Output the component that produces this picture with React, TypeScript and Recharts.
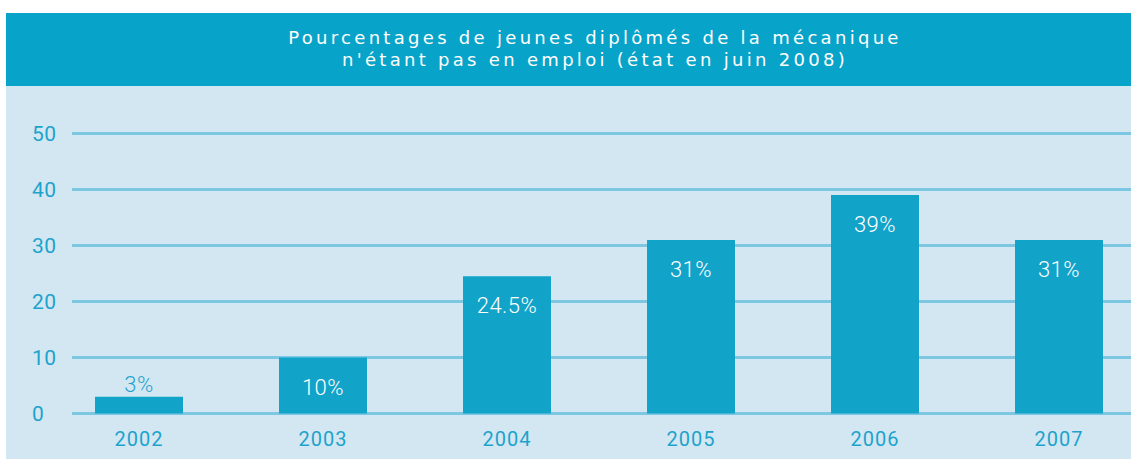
import { BarChart, Bar, XAxis, YAxis, CartesianGrid, LabelList } from 'recharts';

const years = ['2002', '2003', '2004', '2005', '2006', '2007'];
const sansEmploi = [3, 10, 24.5, 31, 39, 31];
const yTicks = [0, 10, 20, 30, 40, 50];

const data = years.map((year, i) => ({ year, value: sansEmploi[i] }));

const BAND = '#08a3c9';
const BG = '#d3e7f2';
const BAR = '#12a3c9';
const GRID = '#7cc7e1';
const TEXT = '#1da3cc';

function ValueLabel(props: any) {
  const { x, y, width, value } = props;
  const small = value < 5;
  return (
    <text
      x={x + width / 2}
      y={small ? y - 5 : y + 37}
      textAnchor="middle"
      fill={small ? TEXT : '#ffffff'}
      fontSize={22}
      fontWeight={300}
      letterSpacing={0.5}
      fontFamily="Roboto, sans-serif"
    >
      {value}%
    </text>
  );
}

function YTick(props: any) {
  const { y, payload } = props;
  return (
    <text x={32} y={y} dy={7} textAnchor="start" fill={TEXT} fontSize={21} letterSpacing={0.5} fontFamily="Roboto, sans-serif">
      {payload.value}
    </text>
  );
}

function XTick(props: any) {
  const { x, y, payload } = props;
  return (
    <text x={x} y={y} dy={32} textAnchor="middle" fill={TEXT} fontSize={20} letterSpacing={1} fontFamily="Roboto, sans-serif">
      {payload.value}
    </text>
  );
}

function GridLine(props: any) {
  return (
    <line
      key={props.key}
      x1={props.x1 + 25}
      x2={props.x2 + 20}
      y1={props.y1}
      y2={props.y2}
      stroke={GRID}
      strokeWidth={3}
    />
  );
}

export default function App() {
  return (
    <div
      style={{
        position: 'absolute',
        left: 0,
        top: 0,
        width: 1131,
        height: 459,
        overflow: 'hidden',
        background: '#ffffff',
      }}
    >
      <div
        style={{
          position: 'absolute',
          left: 6,
          top: 13,
          width: 1125,
          height: 73,
          background: BAND,
          color: '#ffffff',
          boxSizing: 'border-box',
          paddingTop: 14,
          paddingLeft: 53,
          textAlign: 'center',
          fontFamily: "'DejaVu Sans', sans-serif",
          fontSize: 18,
          lineHeight: '22px',
          letterSpacing: 3.3,
        }}
      >
        Pourcentages de jeunes diplômés de la mécanique
        <br />
        n'étant pas en emploi (état en juin 2008)
      </div>
      <div style={{ position: 'absolute', left: 6, top: 86, width: 1125, height: 373, background: BG }} />
      <div style={{ position: 'absolute', left: 0, top: 86 }}>
        <BarChart
          width={1160}
          height={373}
          data={data}
          margin={{ top: 47.5, right: 9, bottom: 15.5, left: 0 }}
        >
          <CartesianGrid vertical={false} horizontal={GridLine} />
          <XAxis dataKey="year" axisLine={false} tickLine={false} tickSize={0} tickMargin={0} height={30} tick={XTick} />
          <YAxis
            domain={[0, 50]}
            ticks={yTicks}
            width={47}
            axisLine={false}
            tickLine={false}
            tick={YTick}
          />
          <Bar dataKey="value" fill={BAR} barSize={88} isAnimationActive={false}>
            <LabelList dataKey="value" content={ValueLabel} />
          </Bar>
        </BarChart>
      </div>
    </div>
  );
}
